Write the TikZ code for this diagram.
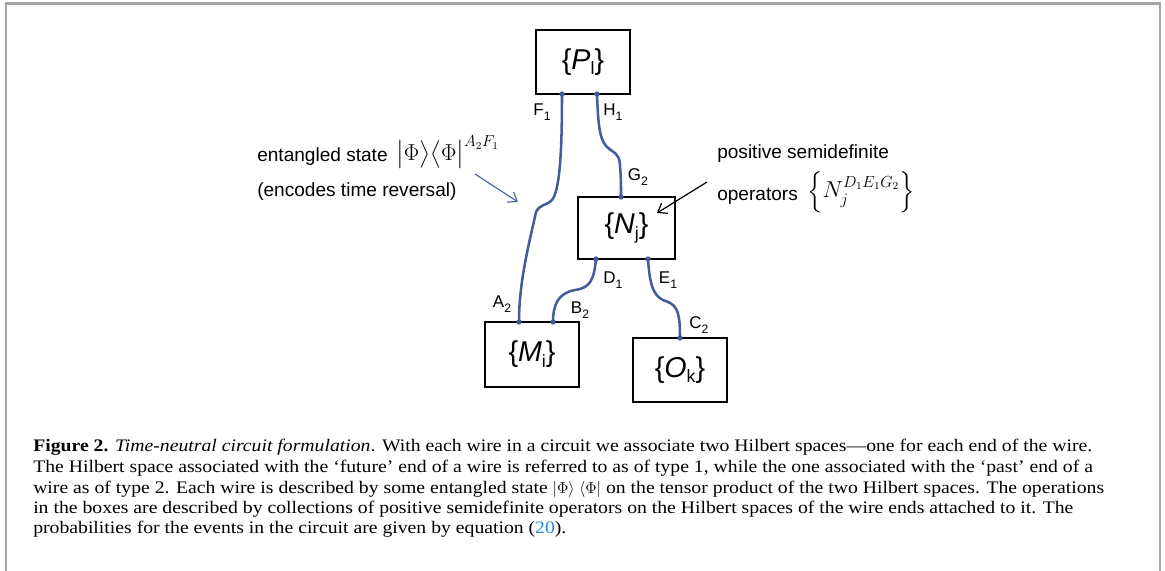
\documentclass[tikz,border=0pt]{standalone}
\usepackage{amsmath}
\usepackage{fontspec}
\usepackage{graphicx}
\setmainfont{Liberation Serif}
\newfontfamily\capserif{Liberation Serif}[FakeStretch=1.12]
\newfontfamily\arial{Liberation Sans}
\usetikzlibrary{arrows.meta}
\definecolor{wire}{RGB}{68,92,155}
\definecolor{arrblue}{RGB}{80,104,165}
\definecolor{framegray}{RGB}{165,165,165}
\definecolor{citeblue}{RGB}{35,140,200}
\newcommand\boxfont{\arial\fontsize{21.5}{25}\selectfont}
\newcommand\labfont{\arial\fontsize{12.75}{15}\selectfont}
\newcommand\notefont{\arial\fontsize{14.3}{17}\selectfont}
\newcommand\capfont{\capserif\fontsize{13.2}{15.2}\selectfont}
\newcommand\lsub[1]{\raisebox{-0.28em}{\scalebox{0.72}{#1}}}
\newcommand\bsub[1]{\raisebox{-0.18em}{\scalebox{0.62}{#1}}}
\tikzset{
  box/.style={draw, line width=1.1pt, minimum width=70.5pt, minimum height=48pt, inner sep=0pt, outer sep=0pt, font=\boxfont},
  wirelab/.style={font=\labfont, inner sep=0pt},
  wireline/.style={draw=wire, line width=1.9pt},
  note/.style={font=\notefont, inner sep=0pt},
  mathnote/.style={inner sep=0pt, anchor=west, font=\fontsize{17}{20}\selectfont},
  capline/.style={font=\capfont, inner sep=0pt, anchor=base west},
  enddot/.style={fill=wire}
}
\begin{document}
\begin{tikzpicture}[x=0.75pt,y=-0.75pt]
\useasboundingbox (0,0) rectangle (1165,571);
% frame
\draw[framegray, line width=1.6pt] (6,575) -- (6,3.5) -- (1160,3.5) -- (1160,575);

% boxes
\node[box] (P) at (583,62) {\{\textit{P}\bsub{l}\}};
\node[box, minimum width=72.75pt, minimum height=46.5pt] (N) at (626.5,228) {\{\textit{N}\bsub{j}\}};
\node[box, minimum height=48.75pt] (M) at (532,354.5) {\{\textit{M}\bsub{i}\}};
\node[box] (O) at (680,370) {\{\textit{O}\bsub{k}\}};

% wire ends
\coordinate (pF) at ([xshift=19.5pt]P.south west);
\coordinate (pH) at ([xshift=45.75pt]P.south west);
\coordinate (nG) at ([xshift=32.25pt]N.north west);
\coordinate (nD) at ([xshift=13.5pt]N.south west);
\coordinate (nE) at ([xshift=52.5pt]N.south west);
\coordinate (mA) at ([xshift=25.5pt]M.north west);
\coordinate (mB) at ([xshift=51pt]M.north west);
\coordinate (oC) at (O.north);

% wires
\draw[wireline] (pF) .. controls +(0,56) and (560,190) .. (552,200)
  .. controls (546,206) and (540,204) .. (536,212)
  .. controls (530,240) and (519,280) .. (mA);
\draw[wireline] (pH) .. controls +(1,26) and (599,138) .. (606,146)
  .. controls (614,154) and (619,152) .. (620,165)
  .. controls (621,180) .. (nG);
\draw[wireline] (nD) .. controls +(-2,21) and (590,288) .. (575,290)
  .. controls (558,293) and (553,305) .. (mB);
\draw[wireline] (nE) .. controls +(2,31) and (655,298) .. (668,302)
  .. controls (678,306) and (680,315) .. (oC);
\foreach \e in {pF,pH,nG,nD,nE,mA,mB,oC} \fill[enddot] (\e) circle[radius=2pt];

% wire labels
\node[wirelab] (lF) at (542,112) {F\lsub{1}};
\node[wirelab] (lH) at (613,112) {H\lsub{1}};
\node[wirelab] (lG) at (638,177) {G\lsub{2}};
\node[wirelab] (lD) at (613,280) {D\lsub{1}};
\node[wirelab] (lE) at (668,280) {E\lsub{1}};
\node[wirelab] (lA) at (502,304) {A\lsub{2}};
\node[wirelab] (lB) at (580,310) {B\lsub{2}};
\node[wirelab] (lC) at (699,325) {C\lsub{2}};

% annotations
\node[note, anchor=base west] (ent) at (257,161) {entangled state};
\node[mathnote] (phi) at (396,152)
  {$\bigl|\Phi\bigr\rangle\bigl\langle\Phi\bigr|^{A_2F_1}$};
\node[note, anchor=base west] (enc) at (257,196) {(encodes time reversal)};
\node[note, anchor=base west] (pos) at (717,158) {positive semidefinite};
\node[note, anchor=base west] (ops) at (717,200) {operators};
\node[mathnote] (nset) at (807,192)
  {$\Bigl\{N_j^{D_1E_1G_2}\Bigr\}$};

\coordinate (a1s) at (475,174);
\coordinate (a1e) at (518,202);
\coordinate (a2s) at (707,182);
\coordinate (a2e) at (657,213);
\draw[arrblue, line width=0.9pt, -{Straight Barb[length=6pt,width=9pt]}] (a1s) -- (a1e);
\draw[black, line width=0.9pt, -{Straight Barb[length=6pt,width=9pt]}] (a2s) -- (a2e);

% caption
\node[capline] (cap1) at (33,451.7) {\textbf{Figure 2.} \textit{Time-neutral circuit formulation}. With each wire in a circuit we associate two Hilbert spaces—one for each end of the wire.};
\node[capline] (cap2) at (33,472.5) {The Hilbert space associated with the ‘future’ end of a wire is referred to as of type 1, while the one associated with the ‘past’ end of a};
\node[capline] (cap3) at (33,493) {wire as of type 2. Each wire is described by some entangled state $|\Phi\rangle\;\langle\Phi|$ on the tensor product of the two Hilbert spaces. The operations};
\node[capline] (cap4) at (33,513.3) {in the boxes are described by collections of positive semidefinite operators on the Hilbert spaces of the wire ends attached to it. The};
\node[capline] (cap5) at (33,533.6) {probabilities for the events in the circuit are given by equation (\textcolor{citeblue}{20}).};
\end{tikzpicture}
\end{document}
